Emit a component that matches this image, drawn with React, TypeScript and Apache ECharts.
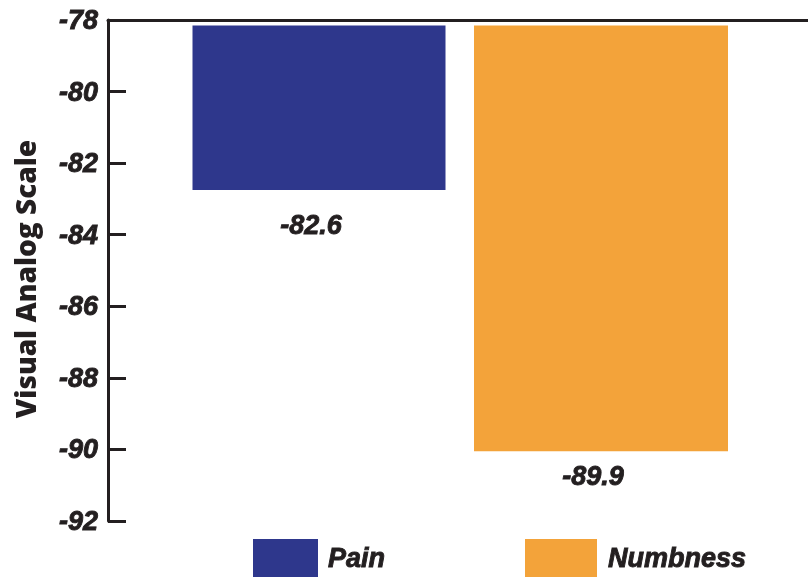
import React, { useEffect, useRef } from "react";
import * as echarts from "echarts";

const categories = ["Pain", "Numbness"];
const painValues = [-82.6, "-"];
const numbnessValues = ["-", -89.9];
const yMin = -92;
const yMax = -78;
const yStep = 2;
const yAxisTitle = "Visual Analog Scale";

const NARROW = '"Liberation Sans Narrow", "Arial Narrow", "Liberation Sans", sans-serif';
const INK = "#231f20";
const PAIN = "#2e378c";
const NUMB = "#f3a33a";

export default function App() {
  const ref = useRef<HTMLDivElement>(null);
  useEffect(() => {
    if (!ref.current) return;
    const chart = echarts.init(ref.current, null, { renderer: "svg" });
    const labelStyle = {
      fontFamily: NARROW,
      fontWeight: "bold",
      fontStyle: "italic",
      fontSize: 27,
      color: INK,
      textBorderColor: INK,
      textBorderWidth: 0.9,
    };
    chart.setOption({
      animation: false,
      grid: [
        { left: 108, top: 20, right: 0, bottom: 56, containLabel: false },
        { left: 178.75, top: 25.5, right: 66.25, bottom: 50.5, containLabel: false },
      ],
      xAxis: [
        {
          gridIndex: 0,
          type: "category",
          data: categories,
          position: "top",
          axisLine: { show: true, lineStyle: { color: INK, width: 3 } },
          axisTick: { show: false },
          axisLabel: { show: false },
        },
        {
          gridIndex: 1,
          type: "category",
          data: categories,
          show: false,
        },
      ],
      yAxis: [
        {
          gridIndex: 0,
          type: "value",
          min: yMin,
          max: yMax,
          interval: yStep,
          splitLine: { show: false },
          axisLine: { show: true, lineStyle: { color: INK, width: 3 } },
          axisTick: { show: true, inside: true, length: 18, lineStyle: { color: INK, width: 3 } },
          axisLabel: { ...labelStyle, margin: 10 },
        },
        {
          gridIndex: 1,
          type: "value",
          min: yMin,
          max: yMax,
          interval: yStep,
          show: false,
          splitLine: { show: false },
        },
      ],
      legend: [
        {
          data: ["Pain"],
          left: 253,
          top: 539,
          padding: 0,
          itemWidth: 65,
          itemHeight: 38,
          icon: "rect",
          selectedMode: false,
          textStyle: { ...labelStyle, padding: [0, 0, 0, 5] },
        },
        {
          data: ["Numbness"],
          left: 525,
          top: 539,
          padding: 0,
          itemWidth: 72,
          itemHeight: 38,
          icon: "rect",
          selectedMode: false,
          textStyle: { ...labelStyle, padding: [0, 0, 0, 6] },
        },
      ],
      graphic: [
        {
          type: "text",
          x: 25,
          y: 279,
          rotation: Math.PI / 2,
          style: {
            text: yAxisTitle,
            font: '800 28px "Open Sans", "Liberation Sans", Arial, sans-serif',
            fill: INK,
            align: "center",
            verticalAlign: "middle",
          },
        },
      ],
      series: [
        {
          name: "Pain",
          type: "bar",
          xAxisIndex: 1,
          yAxisIndex: 1,
          barWidth: 253,
          barGap: "-100%",
          clip: true,
          itemStyle: { color: PAIN },
          data: painValues,
          label: {
            show: true,
            position: "bottom",
            distance: 21,
            offset: [-8, 0],
            ...labelStyle,
          },
        },
        {
          name: "Numbness",
          type: "bar",
          xAxisIndex: 1,
          yAxisIndex: 1,
          barWidth: 254,
          barGap: "-100%",
          clip: true,
          itemStyle: { color: NUMB },
          data: numbnessValues,
          label: {
            show: true,
            position: "bottom",
            distance: 11,
            offset: [-8, 0],
            ...labelStyle,
          },
        },
      ],
    });
    return () => chart.dispose();
  }, []);
  return <div ref={ref} style={{ width: 808, height: 577, position: "fixed", left: 0, top: 0 }} />;
}
